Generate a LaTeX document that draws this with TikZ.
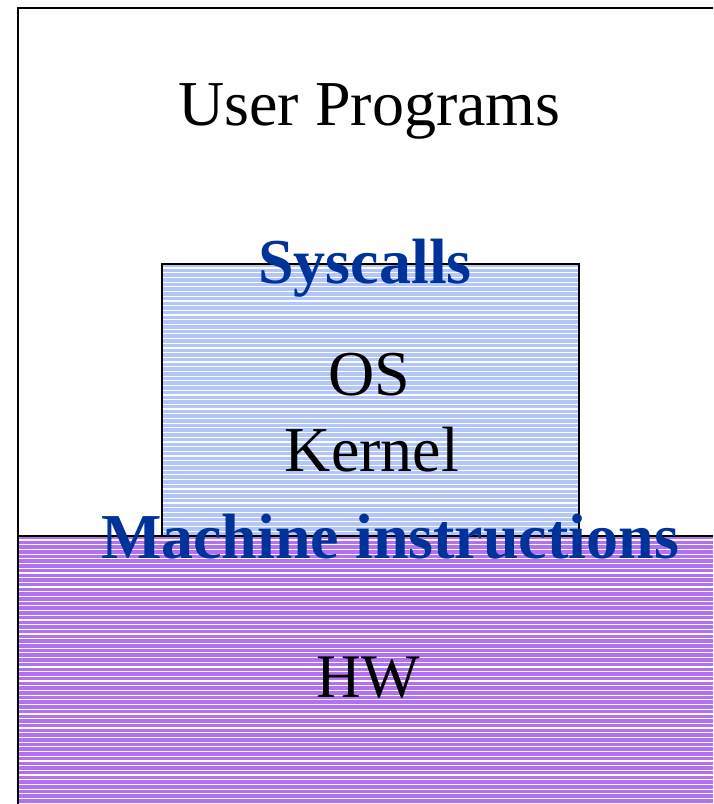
\documentclass[tikz,border=0pt]{standalone}
\usepackage{fontspec}
\setmainfont{Liberation Serif}
\definecolor{kblue}{RGB}{178,198,250}
\definecolor{hwpurple}{RGB}{178,112,242}
\definecolor{lblue}{RGB}{0,51,153}
\tikzset{
  frame/.style={line width=2.2pt, draw=black},
  plain/.style={anchor=base, inner sep=0pt, font=\fontsize{64}{64}\selectfont},
  bluelab/.style={anchor=base, inner sep=0pt, text=lblue, font=\fontsize{64}{64}\selectfont\bfseries},
  stripe/.style={draw=white, line width=1.2pt}
}
\begin{document}
\begin{tikzpicture}[x=1pt,y=-1pt]
\useasboundingbox (0,0) rectangle (713,804);
% kernel box
\fill[kblue] (162,264) rectangle (579,536);
\foreach \y in {268,272.7,...,536} {\draw[stripe] (163,\y) -- (578,\y);}
\draw[frame] (162,536) -- (162,264) -- (579,264) -- (579,536);
% hardware
\fill[hwpurple] (18,536) rectangle (713,804);
\foreach \y in {540,544.7,...,804} {\draw[stripe] (19,\y) -- (713,\y);}
\draw[frame] (18,536) -- (713,536);
% outer frame
\draw[frame] (18,804) -- (18,8) -- (713,8);
% labels
\node[plain] (up) at (369.5,125) {User Programs};
\node[bluelab] (sys) at (365,283) {Syscalls};
\node[plain] (os) at (369,395) {OS};
\node[plain] (ker) at (372,471) {Kernel};
\node[bluelab] (mi) at (390,558) {Machine instructions};
\node[plain, font=\fontsize{62}{62}\selectfont] (hw) at (368,697) {HW};
\end{tikzpicture}
\end{document}
